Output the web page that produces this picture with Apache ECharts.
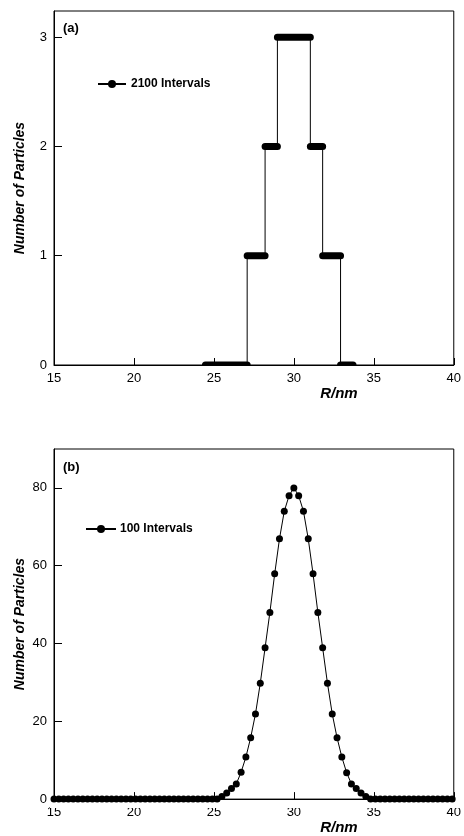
<!DOCTYPE html>
<html>
<head>
<meta charset="utf-8">
<script src="https://cdn.jsdelivr.net/npm/echarts@6/dist/echarts.min.js"></script>
<style>
html, body { margin: 0; padding: 0; background: #fff; }
#main { width: 464px; height: 836px; }
</style>
</head>
<body>
<div id="main"></div>
<script>
// panel (a): 2100 intervals, flat levels of the step histogram
var stepStart = [24.47, 27.08, 28.2, 28.97, 31.03, 31.8, 32.92];
var stepEnd = [27.08, 28.2, 28.97, 31.03, 31.8, 32.92, 33.7];
var stepCount = [0, 1, 2, 3, 2, 1, 0];

// panel (b): 100 intervals
var radiusB = [15.0, 15.3, 15.6, 15.9, 16.2, 16.5, 16.8, 17.1, 17.4, 17.7,
    18.0, 18.3, 18.6, 18.9, 19.2, 19.5, 19.8, 20.1, 20.4, 20.7,
    21.0, 21.3, 21.6, 21.9, 22.2, 22.5, 22.8, 23.1, 23.4, 23.7,
    24.0, 24.3, 24.6, 24.9, 25.2, 25.5, 25.8, 26.1, 26.4, 26.7,
    27.0, 27.3, 27.6, 27.9, 28.2, 28.5, 28.8, 29.1, 29.4, 29.7,
    30.0, 30.3, 30.6, 30.9, 31.2, 31.5, 31.8, 32.1, 32.4, 32.7,
    33.0, 33.3, 33.6, 33.9, 34.2, 34.5, 34.8, 35.1, 35.4, 35.7,
    36.0, 36.3, 36.6, 36.9, 37.2, 37.5, 37.8, 38.1, 38.4, 38.7,
    39.0, 39.3, 39.6, 39.9];
var countB = [0, 0, 0, 0, 0, 0, 0, 0, 0, 0,
    0, 0, 0, 0, 0, 0, 0, 0, 0, 0,
    0, 0, 0, 0, 0, 0, 0, 0, 0, 0,
    0, 0, 0, 0, 0, 0.7, 1.6, 2.7, 3.9, 6.9,
    10.8, 15.8, 21.9, 29.8, 38.9, 48.0, 57.9, 66.9, 74.0, 78.0,
    80.0, 78.0, 74.0, 66.9, 57.9, 48.0, 38.9, 29.8, 21.9, 15.8,
    10.8, 6.8, 3.9, 2.7, 1.6, 0.7, 0, 0, 0, 0,
    0, 0, 0, 0, 0, 0, 0, 0, 0, 0,
    0, 0, 0, 0];

var xTicks = [15, 40, 5];
var yRangeA = [0, 3.24];
var yTicksA = [0, 1, 2, 3];
var yRangeB = [0, 90];
var yTicksB = [0, 20, 40, 60, 80];

var font = "'Liberation Sans', Arial, sans-serif";
var gridLeft = 54, gridWidth = 404, gridHeight = 354;
var gridTops = [11, 449];

var stepLine = [];
var stepBars = [];
for (var i = 0; i < stepCount.length; i++) {
    stepLine.push([stepStart[i], stepCount[i]], [stepEnd[i], stepCount[i]]);
    stepBars.push([stepStart[i], stepCount[i]], [stepEnd[i], stepCount[i]], '-');
}
var curveB = radiusB.map(function (r, k) { return [r, countB[k]]; });

function xAxisFor(idx) {
    return {
        type: 'value', gridIndex: idx,
        min: xTicks[0], max: xTicks[1], interval: xTicks[2],
        name: 'R/nm', nameLocation: 'middle', nameGap: 20,
        nameTextStyle: { fontFamily: font, fontSize: 15, fontWeight: 'bold', fontStyle: 'italic', color: '#000', padding: [0, 0, 0, 170] },
        axisLine: { lineStyle: { color: '#000', width: 1 } },
        axisTick: { inside: true, length: 7, lineStyle: { color: '#000' } },
        axisLabel: { fontFamily: font, fontSize: 13, color: '#000', margin: 7 },
        splitLine: { show: false }
    };
}
function yAxisFor(idx, range, ticks, gap) {
    return {
        type: 'value', gridIndex: idx,
        min: range[0], max: range[1],
        name: 'Number of Particles', nameLocation: 'middle', nameGap: gap,
        nameMoveOverlap: false,
        nameTextStyle: { fontFamily: font, fontSize: 14, fontWeight: 'bold', fontStyle: 'italic', color: '#000' },
        axisLine: { show: true, lineStyle: { color: '#000', width: 1 } },
        axisTick: { show: true, inside: true, length: 8, customValues: ticks, lineStyle: { color: '#000' } },
        axisLabel: { fontFamily: font, fontSize: 13, color: '#000', margin: 7, customValues: ticks },
        splitLine: { show: false }
    };
}

var myChart = echarts.init(document.getElementById('main'), null, { renderer: 'canvas' });
var option = {
    animation: false,
    backgroundColor: '#fff',
    title: [
        { text: '(a)', left: 63, top: 22, padding: 0, textStyle: { fontFamily: font, fontSize: 13, fontWeight: 'bold', color: '#000' } },
        { text: '(b)', left: 63, top: 461, padding: 0, textStyle: { fontFamily: font, fontSize: 13, fontWeight: 'bold', color: '#000' } }
    ],
    legend: [
        {
            data: ['2100 Intervals'], left: 97, top: 78, padding: 0,
            itemWidth: 28, itemHeight: 10, itemGap: 0,
            textStyle: { fontFamily: font, fontSize: 12, fontWeight: 'bold', color: '#000', padding: [0, 0, 0, 0] },
            selectedMode: false
        },
        {
            data: ['100 Intervals'], left: 85, top: 523, padding: 0,
            itemWidth: 30, itemHeight: 10, itemGap: 0,
            textStyle: { fontFamily: font, fontSize: 12, fontWeight: 'bold', color: '#000', padding: [0, 0, 0, -1] },
            selectedMode: false
        }
    ],
    grid: gridTops.map(function (t) {
        return { left: gridLeft, top: t, width: gridWidth, height: gridHeight, show: true, borderColor: '#000', borderWidth: 1, backgroundColor: 'transparent' };
    }),
    xAxis: [xAxisFor(0), xAxisFor(1)],
    yAxis: [yAxisFor(0, yRangeA, yTicksA, 27), yAxisFor(1, yRangeB, yTicksB, 27)],
    series: [
        {
            name: 'levels', type: 'line', xAxisIndex: 0, yAxisIndex: 0,
            data: stepBars, showSymbol: false, connectNulls: false,
            lineStyle: { color: '#000', width: 7, cap: 'round' }, z: 3
        },
        {
            name: '2100 Intervals', type: 'line', xAxisIndex: 0, yAxisIndex: 0,
            data: stepLine, symbol: 'circle', showSymbol: false,
            itemStyle: { color: '#000' },
            lineStyle: { color: '#000', width: 1 }, z: 2
        },
        {
            name: '100 Intervals', type: 'line', xAxisIndex: 1, yAxisIndex: 1,
            data: curveB, symbol: 'circle', symbolSize: 7,
            itemStyle: { color: '#000' },
            lineStyle: { color: '#000', width: 1 }
        }
    ],
    // white strips just under each x axis so the baseline markers look clipped
    graphic: gridTops.map(function (t) {
        return {
            type: 'rect', z: 100, silent: true,
            shape: { x: gridLeft - 4, y: t + gridHeight + 1, width: gridWidth + 8, height: 4 },
            style: { fill: '#fff' }
        };
    })
};
myChart.setOption(option);
</script>
</body>
</html>
